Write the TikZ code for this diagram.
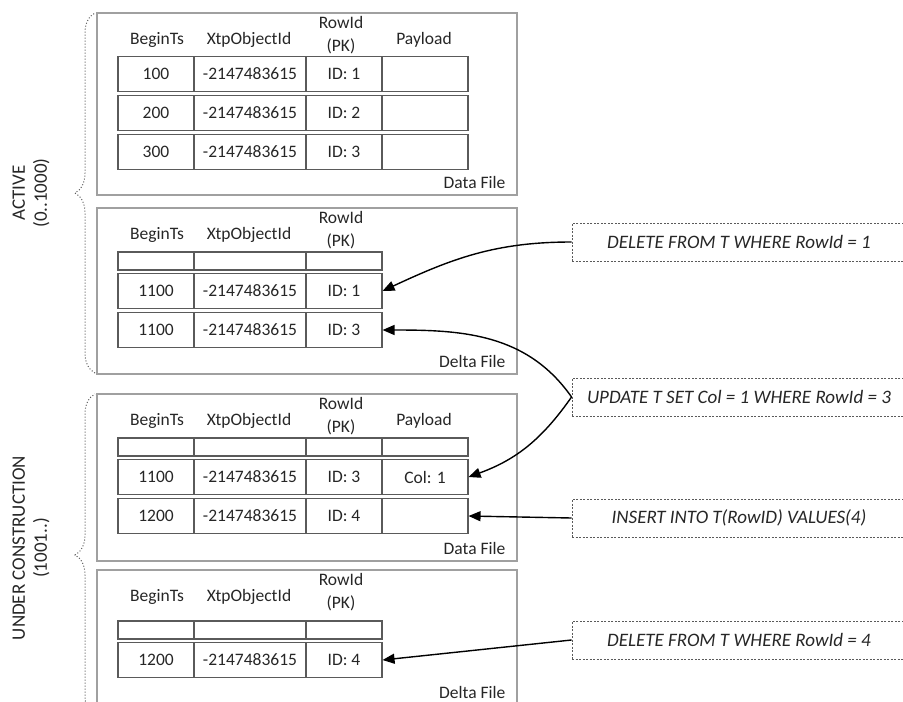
\documentclass[tikz,border=0pt]{standalone}
\usepackage{fontspec}
\setmainfont{Carlito}
\usetikzlibrary{arrows.meta,decorations.pathreplacing}

\definecolor{filegray}{HTML}{A0A0A0}
\definecolor{cellgray}{HTML}{5A5A5A}
\definecolor{inkgray}{HTML}{262626}

\tikzset{
    filebox/.style={draw=filegray, line width=1.3pt},
    cell/.style={draw=cellgray, line width=1.1pt, minimum width=#1,
        minimum height=35pt, inner sep=0pt},
    blank/.style={cell=#1, minimum height=18pt},
    sqlbox/.style={draw=cellgray, dash pattern=on 2pt off 1.5pt, line width=0.9pt,
        minimum width=334pt, minimum height=38pt, font=\fontsize{19}{23}\selectfont\itshape},
    op/.style={line width=1.4pt, -{Triangle[length=12pt, width=10pt]}},
    tsbrace/.style={draw=cellgray, dotted, line width=1pt, decorate,
        decoration={brace, amplitude=20pt}}
}

\begin{document}
\begin{tikzpicture}[x=1pt, y=-1pt, font=\fontsize{17.5}{23}\selectfont, text=inkgray]
    \useasboundingbox (0,0) rectangle (903,702);
    \clip (0,0) rectangle (903,702);

    % the four files
    \foreach \b/\top/\bot/\lbl in {
        actdata/13/195/Data File,
        actdelta/208/374/Delta File,
        ucdata/394/561/Data File,
        ucdelta/570/705/Delta File
    } {
        \draw[filebox] (97,\top) rectangle (517,\bot);
        \node[anchor=east] (\b-lbl) at (509,\bot-13) {\lbl};
        \node (\b-h1) at (157,\top+27) {BeginTs};
        \node (\b-h2) at (249,\top+27) {XtpObjectId};
        \node[align=center] (\b-h3) at (341,\top+22) {RowId\\(PK)};
    }
    \foreach \b/\top in {actdata/13, ucdata/394}
        \node (\b-h4) at (424,\top+27) {Payload};

    % empty first rows
    \foreach \b/\y in {actdelta/261, ucdata/447, ucdelta/630} {
        \node[blank=76] (\b-e1) at (156,\y) {};
        \node[blank=112] (\b-e2) at (250,\y) {};
        \node[blank=76] (\b-e3) at (344,\y) {};
    }
    \node[blank=86] (ucdata-e4) at (425,447) {};

    % active data file
    \foreach \r/\y/\ts/\id in {1/74/100/1, 2/113/200/2, 3/152/300/3} {
        \node[cell=76] (a\r-ts) at (156,\y) {\ts};
        \node[cell=112] (a\r-obj) at (250,\y) {-2147483615};
        \node[cell=76] (a\r-id) at (344,\y) {ID: \id};
        \node[cell=86] (a\r-pl) at (425,\y) {};
    }

    % active delta file
    \foreach \r/\y/\id in {1/291/1, 2/330/3} {
        \node[cell=76] (b\r-ts) at (156,\y) {1100};
        \node[cell=112] (b\r-obj) at (250,\y) {-2147483615};
        \node[cell=76] (b\r-id) at (344,\y) {ID: \id};
    }

    % data file under construction
    \foreach \r/\y/\ts/\id/\pl in {1/477/1100/3/{Col: 1}, 2/516/1200/4/{}} {
        \node[cell=76] (c\r-ts) at (156,\y) {\ts};
        \node[cell=112] (c\r-obj) at (250,\y) {-2147483615};
        \node[cell=76] (c\r-id) at (344,\y) {ID: \id};
        \node[cell=86] (c\r-pl) at (425,\y) {\pl};
    }

    % delta file under construction
    \node[cell=76] (d1-ts) at (156,660) {1200};
    \node[cell=112] (d1-obj) at (250,660) {-2147483615};
    \node[cell=76] (d1-id) at (344,660) {ID: 4};

    % ranges
    \draw[tsbrace] (95,373) -- (95,13);
    \draw[tsbrace] (95,716) -- (95,394);
    \node[rotate=90, align=center, font=\fontsize{19}{22}\selectfont]
        (actlbl) at (31,193) {ACTIVE\\(0..1000)};
    \node[rotate=90, align=center, font=\fontsize{19}{22}\selectfont]
        (uclbl) at (31,548) {UNDER CONSTRUCTION\\(1001..)};

    % statements
    \node[sqlbox] (del1) at (739,242) {DELETE FROM T WHERE RowId = 1};
    \node[sqlbox] (upd3) at (739,397) {UPDATE T SET Col = 1 WHERE RowId = 3};
    \node[sqlbox] (ins4) at (739,518) {INSERT INTO T(RowID) VALUES(4)};
    \node[sqlbox] (del4) at (739,640) {DELETE FROM T WHERE RowId = 4};

    \draw[op] (del1.west) to[out=180, in=25] (b1-id.east);
    \draw[op] (upd3.west) to[out=125, in=0] (b2-id.east);
    \draw[op] (upd3.west) to[out=235, in=20] (c1-pl.east);
    \draw[op] (ins4.west) -- (c2-pl.east);
    \draw[op] (del4.west) -- (d1-id.east);
\end{tikzpicture}
\end{document}
